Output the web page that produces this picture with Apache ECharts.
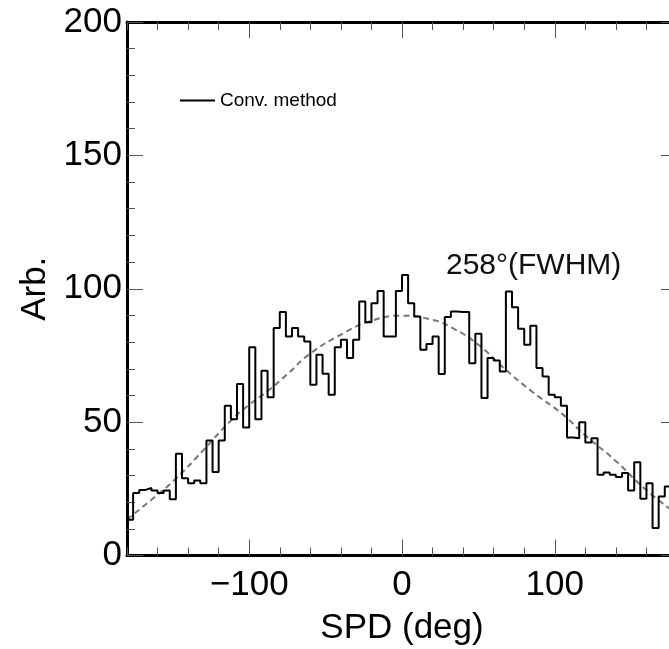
<!DOCTYPE html>
<html>
<head>
<meta charset="utf-8">
<script src="https://cdn.jsdelivr.net/npm/echarts@6/dist/echarts.min.js"></script>
<style>html,body{margin:0;padding:0;background:#fff}#c{width:669px;height:649px}</style>
</head>
<body>
<div id="c"></div>
<script>
// ---- data ----
const binStart = -180;
const binWidth = 4;
const histValues = [
  13.4, 23.4, 24.6, 25.3, 24.4, 23.4, 24.4, 21.1, 38.1, 29.0,
  27.1, 28.1, 27.1, 43.1, 31.3, 43.1, 56.1, 51.1, 64.3, 48.0,
  78.1, 51.1, 69.3, 59.3, 85.3, 91.3, 82.1, 85.3, 82.1, 80.2,
  64.0, 75.3, 68.1, 60.3, 78.1, 80.9, 74.0, 80.9, 95.2, 87.4,
  94.6, 99.2, 82.1, 82.1, 99.2, 105.2, 94.6, 89.6, 77.1, 79.3,
  82.1, 68.0, 89.4, 91.5, 91.3, 91.3, 72.1, 83.1, 59.0, 74.0,
  73.1, 69.0, 99.0, 93.1, 85.0, 79.0, 86.1, 70.3, 67.1, 60.3,
  59.3, 56.1, 44.2, 44.0, 50.0, 42.4, 44.0, 30.3, 31.1, 30.3,
  29.4, 30.9, 24.4, 35.0, 21.3, 27.1, 10.3, 22.1, 25.9, 20.0
];
const fitX = [-180, -163, -148, -130, -113, -100, -87, -74, -61, -39, -20, 0, 20, 33, 50, 66, 85, 105, 120, 139, 160, 180];
const fitY = [13.5, 21.4, 28.8, 39.5, 50.0, 56.5, 62.1, 68.5, 75.3, 83.1, 88.0, 89.9, 88.3, 85.3, 79.0, 70.6, 61.5, 53.0, 45.0, 35.9, 24.5, 15.5];
const xMajorTicks = [-100, 0, 100];
const seriesName = 'Conv. method';
const annotation = '258°(FWHM)';
const xTitle = 'SPD (deg)';
const yTitle = 'Arb.';

// ---- build ----
const histData = histValues.map((v, i) => [binStart + i * binWidth, v]);
histData.push([binStart + histValues.length * binWidth, histValues[histValues.length - 1]]);
const fitData = fitX.map((x, i) => [x, fitY[i]]);

const FONT = '"Liberation Sans", Arial, Helvetica, sans-serif';
const tickColor = '#555';
const axisLineOn = { show: true, onZero: false, lineStyle: { color: '#000', width: 3 } };
const axisLineOff = { show: false, onZero: false };
const fmtX = v => (v < 0 ? '\u2212' + Math.abs(v) : String(v));

function xAx(position, longTicks, labels) {
  const a = {
    type: 'value', position: position, min: -180, max: 180,
    splitLine: { show: false },
    axisLine: longTicks ? axisLineOff : axisLineOn,
    axisLabel: { show: false },
    z: 3
  };
  if (longTicks) {
    a.axisTick = { show: true, inside: true, length: 16, customValues: xMajorTicks, lineStyle: { color: tickColor, width: 1 } };
  } else {
    a.interval = 20;
    a.axisTick = { show: true, inside: true, length: 8, lineStyle: { color: tickColor, width: 1 } };
  }
  if (labels) {
    a.axisLabel = { show: true, customValues: xMajorTicks, formatter: fmtX, fontSize: 35, fontFamily: FONT, color: '#000', margin: 12 };
    a.name = xTitle;
    a.nameLocation = 'middle';
    a.nameGap = 55;
    a.nameTextStyle = { fontSize: 35, fontFamily: FONT, color: '#000' };
  }
  return a;
}
function yAx(position, labels) {
  const a = {
    type: 'value', position: position, min: 0, max: 200, interval: 50,
    splitLine: { show: false },
    axisLine: axisLineOn,
    axisTick: { show: true, inside: true, length: 16, lineStyle: { color: tickColor, width: 1 } },
    minorTick: { show: true, splitNumber: 5, length: 8, lineStyle: { color: tickColor, width: 1 } },
    axisLabel: { show: false },
    z: 3
  };
  if (labels) {
    a.axisLabel = { show: true, fontSize: 35, fontFamily: FONT, color: '#000', margin: 5 };
    a.name = yTitle;
    a.nameLocation = 'middle';
    a.nameGap = 71;
    a.nameTextStyle = { fontSize: 35, fontFamily: FONT, color: '#000' };
  }
  return a;
}

const chart = echarts.init(document.getElementById('c'), null, { renderer: 'canvas' });
chart.setOption({
  animation: false,
  backgroundColor: '#fff',
  grid: { left: 127, right: -8, top: 22, bottom: 93.5, containLabel: false, outerBoundsMode: 'none' },
  xAxis: [
    xAx('bottom', false, true),
    xAx('bottom', true, false),
    xAx('top', false, false),
    xAx('top', true, false)
  ],
  yAxis: [yAx('left', true), yAx('right', false)],
  legend: {
    data: [{ name: seriesName, icon: 'rect' }], left: 175, top: 86, itemWidth: 35, itemHeight: 2, itemGap: 8,
    textStyle: { fontSize: 19, fontFamily: FONT, color: '#000' }
  },
  graphic: [{
    type: 'text', left: 446, top: 251, z: 10,
    style: { text: annotation, fontSize: 30, fontFamily: FONT, fill: '#111' }
  }],
  series: [
    {
      name: 'fit', type: 'line', data: fitData, smooth: true, symbol: 'none',
      xAxisIndex: 0, yAxisIndex: 0,
      lineStyle: { color: '#777', width: 2, type: [6, 4] }, z: 2
    },
    {
      name: seriesName, type: 'line', data: histData, step: 'end', symbol: 'none',
      xAxisIndex: 0, yAxisIndex: 0,
      lineStyle: { color: '#000', width: 2 }, itemStyle: { color: '#000' }, z: 4
    }
  ]
});
</script>
</body>
</html>
